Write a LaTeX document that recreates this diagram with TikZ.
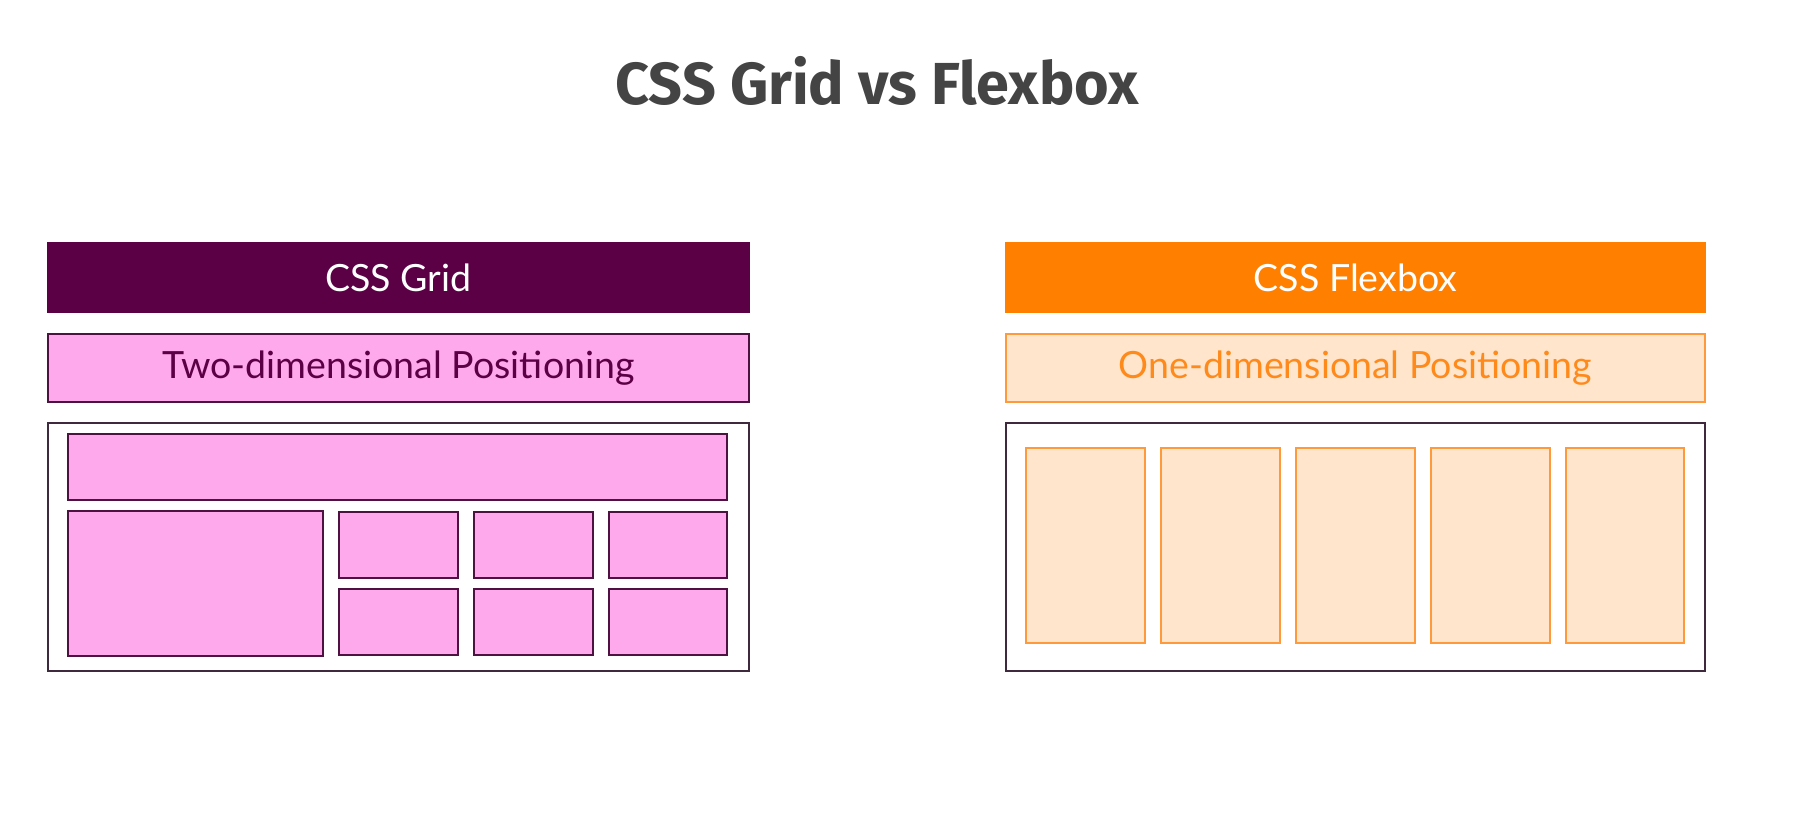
\documentclass[tikz,border=0pt]{standalone}
\usepackage{fontspec}
\setmainfont{Lato}
\newfontfamily\titlefont{Fira Sans}
\definecolor{gridpurple}{HTML}{5C0045}
\definecolor{gridpink}{HTML}{FEA9EC}
\definecolor{gridedge}{HTML}{4E1242}
\definecolor{flexorange}{HTML}{FF7F00}
\definecolor{flexlight}{HTML}{FFE5CB}
\definecolor{flexedge}{HTML}{FF9A3C}
\definecolor{flextext}{HTML}{FF8A1C}
\definecolor{contedge}{HTML}{3E2A3C}
\definecolor{titlegray}{HTML}{444444}
\tikzset{
  rbox/.style={rectangle, inner sep=0pt, outer sep=0pt, line width=2pt},
  headgrid/.style={rbox, fill=gridpurple, draw=gridpurple, text=white, font=\fontsize{37.5}{40}\selectfont},
  headflex/.style={rbox, fill=flexorange, draw=flexorange, text=white, font=\fontsize{37.5}{40}\selectfont},
  subgrid/.style={rbox, fill=gridpink, draw=gridedge, text=gridpurple, font=\fontsize{37.5}{40}\selectfont},
  subflex/.style={rbox, fill=flexlight, draw=flexedge, text=flextext, font=\fontsize{37.5}{40}\selectfont},
  container/.style={rbox, fill=white, draw=contedge},
  gitem/.style={rbox, fill=gridpink, draw=gridedge},
  fitem/.style={rbox, fill=flexlight, draw=flexedge},
}
\begin{document}
\begin{tikzpicture}[x=1pt, y=-1pt]
\useasboundingbox[fill=white] (0,0) rectangle (1802,816);
% title
\node[text=titlegray, font=\titlefont\bfseries\fontsize{59.3}{64}\selectfont] (title) at (877,80.5) {CSS Grid vs Flexbox};
% left column
\node[headgrid, minimum width=701pt, minimum height=69pt] (gridhead) at (398.5,277.5) {CSS Grid};
\node[subgrid, minimum width=701pt, minimum height=68pt] (gridsub) at (398.5,368) {Two-dimensional Positioning};
\node[container, minimum width=701pt, minimum height=248pt] (gridbox) at (398.5,547) {};
\node[gitem, minimum width=659pt, minimum height=66pt] (gtop) at (397.5,467) {};
\node[gitem, minimum width=255pt, minimum height=145pt] (gbig) at (195.5,583.5) {};
\node[gitem, minimum width=119pt, minimum height=66pt] (ga1) at (398.5,545) {};
\node[gitem, minimum width=119pt, minimum height=66pt] (ga2) at (533.5,545) {};
\node[gitem, minimum width=118pt, minimum height=66pt] (ga3) at (668,545) {};
\node[gitem, minimum width=119pt, minimum height=66pt] (gb1) at (398.5,622) {};
\node[gitem, minimum width=119pt, minimum height=66pt] (gb2) at (533.5,622) {};
\node[gitem, minimum width=118pt, minimum height=66pt] (gb3) at (668,622) {};
% right column
\node[headflex, minimum width=699pt, minimum height=69pt] (flexhead) at (1355.5,277.5) {CSS Flexbox};
\node[subflex, minimum width=699pt, minimum height=68pt] (flexsub) at (1355.5,368) {One-dimensional Positioning};
\node[container, minimum width=699pt, minimum height=248pt] (flexbox) at (1355.5,547) {};
\node[fitem, minimum width=119pt, minimum height=195pt] (f1) at (1085.5,545.5) {};
\node[fitem, minimum width=119pt, minimum height=195pt] (f2) at (1220.5,545.5) {};
\node[fitem, minimum width=119pt, minimum height=195pt] (f3) at (1355.5,545.5) {};
\node[fitem, minimum width=119pt, minimum height=195pt] (f4) at (1490.5,545.5) {};
\node[fitem, minimum width=118pt, minimum height=195pt] (f5) at (1625,545.5) {};
\end{tikzpicture}
\end{document}
